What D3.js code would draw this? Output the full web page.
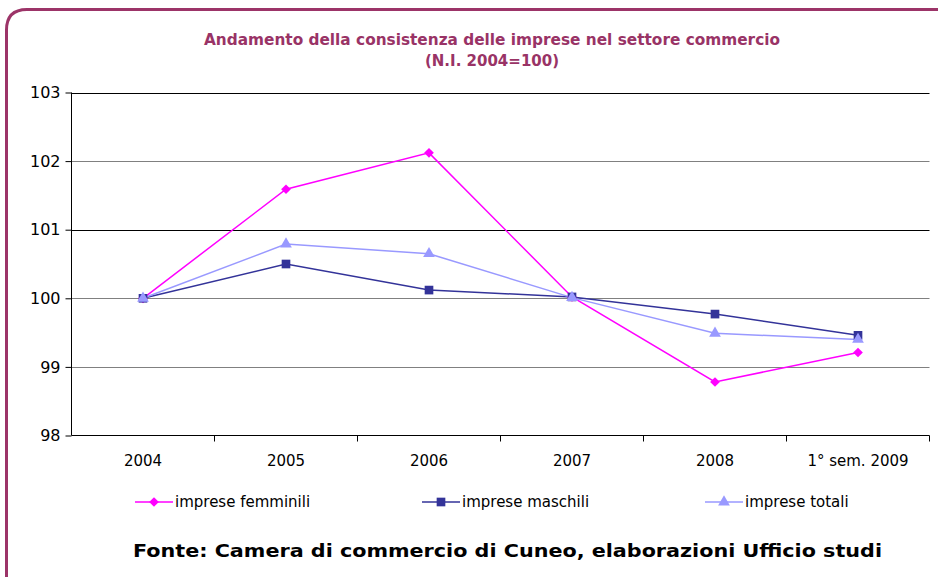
<!DOCTYPE html>
<html>
<head>
<meta charset="utf-8">
<script src="https://cdn.jsdelivr.net/npm/d3@7"></script>
<style>
  body { margin: 0; background: #fff; }
  text { font-family: Tahoma, "DejaVu Sans", Verdana, sans-serif; }
</style>
</head>
<body>
<script>
var width = 938, height = 577;

// dati
var categorie = ["2004", "2005", "2006", "2007", "2008", "1° sem. 2009"];
var femminili = [100, 101.59, 102.12, 100.02, 98.78, 99.21];
var maschili = [100, 100.50, 100.12, 100.02, 99.77, 99.46];
var totali = [100, 100.79, 100.65, 100.01, 99.49, 99.40];
var yTicks = [98, 99, 100, 101, 102, 103];

var serie = [
    { nome: "imprese femminili", valori: femminili, colore: "#ff00ff", marker: "diamond" },
    { nome: "imprese maschili", valori: maschili, colore: "#333399", marker: "square" },
    { nome: "imprese totali", valori: totali, colore: "#9999ff", marker: "triangle" }
];

var svg = d3.select("body").append("svg")
    .attr("width", width)
    .attr("height", height);

// cornice arrotondata
svg.append("path")
    .attr("d", "M6.5,600 L6.5,30 Q6.5,9.5 27,9.5 L945,9.5")
    .attr("fill", "none")
    .attr("stroke", "#9c3468")
    .attr("stroke-width", 3);

// titolo
var titolo = svg.append("text")
    .attr("x", 492)
    .attr("text-anchor", "middle")
    .attr("fill", "#993366")
    .style("font-weight", "bold")
    .style("font-size", "15px");
titolo.append("tspan").attr("x", 492).attr("y", 45)
    .attr("textLength", 576).attr("lengthAdjust", "spacingAndGlyphs")
    .text("Andamento della consistenza delle imprese nel settore commercio");
titolo.append("tspan").attr("x", 492).attr("y", 66)
    .text("(N.I. 2004=100)");

var margin = { left: 71.5, right: 929.5, top: 92.5, bottom: 435.5 };

var x = d3.scaleBand().domain(categorie).range([margin.left, margin.right]);
var y = d3.scaleLinear().domain([98, 103]).range([margin.bottom, margin.top]);

// griglia
svg.append("g").selectAll("line")
    .data(yTicks.slice(1))
    .enter().append("line")
    .attr("x1", margin.left).attr("x2", margin.right)
    .attr("y1", function (d) { return Math.round(y(d)) + 0.5; })
    .attr("y2", function (d) { return Math.round(y(d)) + 0.5; })
    .attr("stroke", function (d) { return (d == 101 || d == 103) ? "#000" : "#808080"; })
    .attr("stroke-width", 1);

// asse y
var yAxis = svg.append("g")
    .attr("transform", "translate(" + margin.left + ",0)")
    .call(d3.axisLeft(y).tickValues(yTicks).tickSize(6).tickPadding(5).tickFormat(d3.format("d")));
yAxis.select(".domain").attr("stroke", "#000").attr("d", "M0," + margin.top + "V" + margin.bottom);
yAxis.selectAll(".tick line").attr("stroke", "#000");
yAxis.selectAll("text").style("font-size", "16px").attr("fill", "#000")
    .attr("font-family", null);

// asse x
var xAxis = svg.append("g")
    .attr("transform", "translate(0," + margin.bottom + ")")
    .call(d3.axisBottom(x).tickSize(0).tickPadding(20));
xAxis.select(".domain").attr("stroke", "#000").attr("d", "M" + margin.left + ",0H" + margin.right);
xAxis.selectAll("text").style("font-size", "15px").attr("fill", "#000")
    .attr("font-family", null);
xAxis.selectAll(".sep")
    .data(categorie)
    .enter().append("line")
    .attr("x1", function (d) { return Math.round(x(d) + x.bandwidth()) - 0.5; })
    .attr("x2", function (d) { return Math.round(x(d) + x.bandwidth()) - 0.5; })
    .attr("y1", 0).attr("y2", 6)
    .attr("stroke", "#000");

function cx(i) { return x(categorie[i]) + x.bandwidth() / 2; }

var simboli = {
    diamond: d3.symbol().type(d3.symbolDiamond2).size(60),
    square: d3.symbol().type(d3.symbolSquare).size(75),
    triangle: d3.symbol().type(d3.symbolTriangle).size(60)
};

var line = d3.line()
    .x(function (d, i) { return cx(i); })
    .y(function (d) { return y(d); });

serie.forEach(function (s) {
    svg.append("path")
        .datum(s.valori)
        .attr("d", line)
        .attr("fill", "none")
        .attr("stroke", s.colore)
        .attr("stroke-width", 1.5);
});

serie.forEach(function (s) {
    svg.append("g").selectAll("path")
        .data(s.valori)
        .enter().append("path")
        .attr("d", simboli[s.marker])
        .attr("transform", function (d, i) { return "translate(" + cx(i) + "," + y(d) + ")"; })
        .attr("fill", s.colore);
});

// legenda
var legX = [135, 422, 705];
var legenda = svg.append("g").selectAll("g")
    .data(serie)
    .enter().append("g")
    .attr("transform", function (d, i) { return "translate(" + legX[i] + ",502)"; });
legenda.append("line")
    .attr("x1", 0).attr("x2", 38).attr("y1", 0).attr("y2", 0)
    .attr("stroke", function (d) { return d.colore; })
    .attr("stroke-width", 1.5);
legenda.append("path")
    .attr("d", function (d) { return simboli[d.marker](); })
    .attr("transform", "translate(19,0)")
    .attr("fill", function (d) { return d.colore; });
legenda.append("text")
    .attr("x", 40).attr("y", 5)
    .style("font-size", "15px")
    .text(function (d) { return d.nome; });

// fonte
svg.append("text")
    .attr("x", 133).attr("y", 557)
    .attr("textLength", 749).attr("lengthAdjust", "spacingAndGlyphs")
    .style("font-weight", "bold")
    .style("font-size", "18px")
    .text("Fonte: Camera di commercio di Cuneo, elaborazioni Ufficio studi");
</script>
</body>
</html>
